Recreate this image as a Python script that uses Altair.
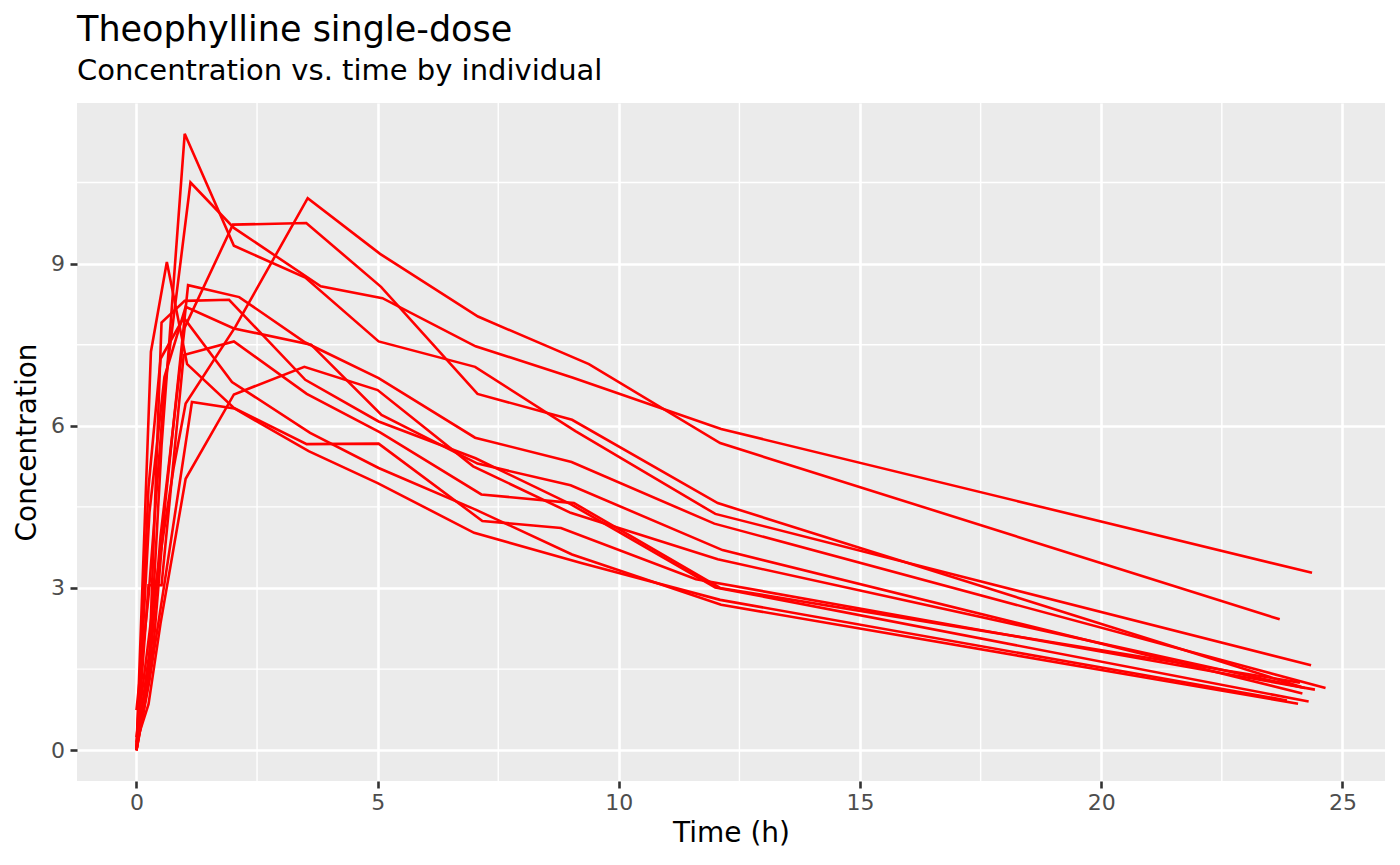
import altair as alt
import pandas as pd

# Theophylline data: per-subject sampling times (h) and concentrations
subjects = ["1", "2", "3", "4", "5", "6", "7", "8", "9", "10", "11", "12"]
times = [
    [0, 0.25, 0.57, 1.12, 2.02, 3.82, 5.10, 7.03, 9.05, 12.12, 24.37],
    [0, 0.27, 0.52, 1.00, 1.92, 3.50, 5.02, 7.03, 9.00, 12.00, 24.30],
    [0, 0.27, 0.58, 1.02, 2.02, 3.62, 5.08, 7.07, 9.00, 12.15, 24.17],
    [0, 0.35, 0.60, 1.07, 2.13, 3.50, 5.02, 7.02, 9.02, 11.98, 24.65],
    [0, 0.30, 0.52, 1.00, 2.02, 3.50, 5.02, 7.02, 9.10, 12.00, 24.35],
    [0, 0.27, 0.58, 1.15, 2.03, 3.57, 5.00, 7.00, 9.22, 12.10, 23.85],
    [0, 0.25, 0.50, 1.02, 2.02, 3.48, 5.00, 6.98, 9.00, 12.05, 24.22],
    [0, 0.25, 0.52, 0.98, 2.02, 3.53, 5.05, 7.15, 9.07, 12.10, 24.12],
    [0, 0.30, 0.63, 1.05, 2.02, 3.53, 5.02, 7.17, 8.80, 11.60, 24.43],
    [0, 0.37, 0.77, 1.02, 2.05, 3.55, 5.05, 7.08, 9.38, 12.10, 23.70],
    [0, 0.25, 0.50, 0.98, 1.98, 3.60, 5.02, 7.03, 9.03, 12.12, 24.08],
    [0, 0.25, 0.50, 1.00, 2.00, 3.52, 5.07, 7.07, 9.03, 12.05, 24.15],
]
concs = [
    [0.74, 2.84, 6.57, 10.50, 9.66, 8.58, 8.36, 7.47, 6.89, 5.94, 3.28],
    [0.00, 1.72, 7.91, 8.31, 8.33, 6.85, 6.08, 5.40, 4.55, 3.01, 0.90],
    [0.00, 4.40, 6.90, 8.20, 7.80, 7.50, 6.20, 5.30, 4.90, 3.70, 1.05],
    [0.00, 1.89, 4.60, 8.60, 8.38, 7.54, 6.88, 5.78, 5.33, 4.19, 1.15],
    [0.00, 2.02, 5.63, 11.40, 9.33, 8.74, 7.56, 7.09, 5.90, 4.37, 1.57],
    [0.00, 1.29, 3.08, 6.44, 6.32, 5.53, 4.94, 4.02, 3.46, 2.78, 0.92],
    [0.15, 0.85, 2.35, 5.02, 6.58, 7.09, 6.66, 5.25, 4.39, 3.53, 1.15],
    [0.00, 3.05, 3.05, 7.31, 7.56, 6.59, 5.88, 4.73, 4.57, 3.00, 1.25],
    [0.00, 7.37, 9.03, 7.14, 6.33, 5.66, 5.67, 4.24, 4.11, 3.16, 1.12],
    [0.24, 2.89, 5.22, 6.41, 7.83, 10.21, 9.18, 8.02, 7.14, 5.68, 2.42],
    [0.00, 4.86, 7.24, 8.00, 6.81, 5.87, 5.22, 4.45, 3.62, 2.69, 0.86],
    [0.00, 1.25, 3.96, 7.82, 9.72, 9.75, 8.57, 6.59, 6.11, 4.57, 1.17],
]

x_major = [0, 5, 10, 15, 20, 25]
x_minor = [2.5, 7.5, 12.5, 17.5, 22.5]
y_major = [0, 3, 6, 9]
y_minor = [1.5, 4.5, 7.5, 10.5]

rows = []
for s, ts, cs in zip(subjects, times, concs):
    for t, c in zip(ts, cs):
        rows.append({"Subject": s, "Time": t, "conc": c})
df = pd.DataFrame(rows)

xmin, xmax = 0.0, 24.65
ymin, ymax = 0.0, 11.4
xd = [xmin - 0.05 * (xmax - xmin), xmax + 0.05 * (xmax - xmin)]
yd = [ymin - 0.05 * (ymax - ymin), ymax + 0.05 * (ymax - ymin)]

W, H = 1308, 678
FONT = "DejaVu Sans"

xscale = alt.Scale(domain=xd, nice=False, zero=False)
yscale = alt.Scale(domain=yd, nice=False, zero=False)

xaxis = alt.Axis(values=x_major, title="Time (h)", grid=True, gridColor="white",
                 gridWidth=2.6, domain=False, tickColor="#333333", tickWidth=2.6,
                 tickSize=7, labelPadding=4.5, labelFontSize=22, labelColor="#4D4D4D",
                 labelFont=FONT, titleFont=FONT, titleFontSize=28, titleColor="black",
                 titleFontWeight="normal", titlePadding=6, labelFlush=False, format="d")
yaxis = alt.Axis(values=y_major, title="Concentration", grid=True, gridColor="white",
                 gridWidth=2.6, domain=False, tickColor="#333333", tickWidth=2.6,
                 tickSize=7, labelPadding=5.5, labelFontSize=22, labelColor="#4D4D4D",
                 labelFont=FONT, titleFont=FONT, titleFontSize=28, titleColor="black",
                 titleFontWeight="normal", titlePadding=9, labelFlush=False, format="d")

minor_x = alt.Chart(pd.DataFrame({"v": x_minor})).mark_rule(
    color="white", strokeWidth=1.4).encode(
    x=alt.X("v:Q", scale=xscale, axis=xaxis), y=alt.value(0), y2=alt.value(H))
minor_y = alt.Chart(pd.DataFrame({"v": y_minor})).mark_rule(
    color="white", strokeWidth=1.4).encode(
    y=alt.Y("v:Q", scale=yscale, axis=yaxis), x=alt.value(0), x2=alt.value(W))

lines = alt.Chart(df).mark_line(color="#FF0000", strokeWidth=2.6).encode(
    x=alt.X("Time:Q", scale=xscale, axis=xaxis),
    y=alt.Y("conc:Q", scale=yscale, axis=yaxis),
    detail="Subject:N",
    order="Time:Q",
)

chart = alt.layer(minor_x, minor_y, lines).properties(
    width=W, height=H,
    background="white",
    title=alt.TitleParams(
        text="Theophylline single-dose",
        subtitle="Concentration vs. time by individual",
        anchor="start", frame="group", font=FONT, subtitleFont=FONT,
        fontSize=35, subtitleFontSize=29, fontWeight="normal",
        color="black", subtitleColor="black", offset=16, subtitlePadding=9,
    ),
    autosize=alt.AutoSizeParams(type="none"),
    padding={"left": 69, "top": 95, "right": 7, "bottom": 76},
).configure_view(fill="#EBEBEB", stroke="transparent", strokeWidth=0)

chart.save("out.html", embed_options={"renderer": "svg", "actions": False})
